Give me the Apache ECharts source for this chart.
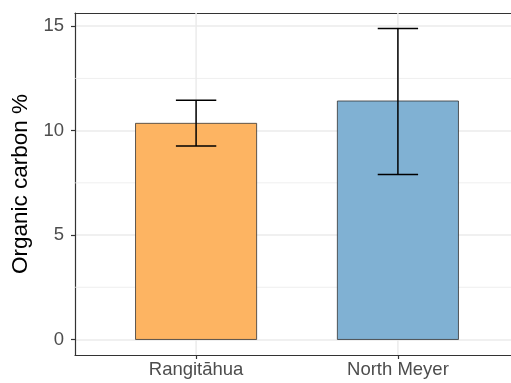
<!DOCTYPE html>
<html>
<head>
<meta charset="utf-8">
<script src="https://cdn.jsdelivr.net/npm/echarts@6/dist/echarts.min.js"></script>
<style>
  html, body { margin: 0; padding: 0; background: #fff; overflow: hidden; }
  #chart { width: 511px; height: 383px; }
</style>
</head>
<body>
<div id="chart"></div>
<script>
// Site names and organic carbon summary (mean with error bar limits)
const sites = ['Rangitāhua', 'North Meyer'];
const meanOC = [10.35, 11.42];
const lowerOC = [9.27, 7.90];
const upperOC = [11.45, 14.89];
const yTicks = [0, 5, 10, 15];
const yMinor = [2.5, 7.5, 12.5];
const barColors = ['#FDB462', '#80B1D3'];

// Axis range padded like a default ggplot continuous scale (5% of data range)
const yTop = Math.max(...upperOC);
const pad = yTop * 0.05;
const siteX = sites.map((s, i) => i + 1);

const barData = siteX.map((x, i) => [x, meanOC[i]]);
const errData = siteX.map((x, i) => [x, lowerOC[i], upperOC[i]]);

const chart = echarts.init(document.getElementById('chart'));
const font = 'Liberation Sans, Arial, sans-serif';
const frame = { show: true, onZero: false, lineStyle: { color: '#333', width: 1.2 } };
const gridColor = '#EBEBEB';

chart.setOption({
  animation: false,
  grid: {
    left: 75, top: 13, width: 444, bottom: 28,
    outerBoundsMode: 'none',
    show: false
  },
  xAxis: [{
    type: 'value',
    position: 'bottom',
    min: 0.4, max: 2.6,
    axisLine: frame,
    axisTick: { show: true, customValues: siteX, length: 4, lineStyle: { color: '#333', width: 1.2 } },
    axisLabel: {
      customValues: siteX, margin: 5,
      formatter: v => sites[Math.round(v) - 1] || '',
      color: '#4D4D4D', fontSize: 18.5, fontFamily: font
    },
    splitLine: { show: false }
  }, {
    // top edge of the panel frame
    type: 'value', position: 'top',
    min: 0.4, max: 2.6,
    axisLine: frame,
    axisTick: { show: false },
    axisLabel: { show: false },
    splitLine: { show: false }
  }],
  yAxis: {
    type: 'value',
    position: 'left',
    min: -pad, max: yTop + pad,
    name: 'Organic carbon %',
    nameLocation: 'middle', nameRotate: 90, nameGap: 39,
    nameTextStyle: { color: '#000', fontSize: 22.5, fontFamily: font },
    axisLine: frame,
    axisTick: { show: true, customValues: yTicks, length: 4, lineStyle: { color: '#333', width: 1.2 } },
    axisLabel: { customValues: yTicks, margin: 11, color: '#4D4D4D', fontSize: 18.5, fontFamily: font },
    splitLine: { show: true, lineStyle: { color: gridColor, width: 1.5 } }
  },
  series: [{
    // minor horizontal grid lines, thinner than the major ones
    type: 'custom',
    z: 1,
    silent: true,
    data: yMinor.map(v => [1, v]),
    renderItem: function (params, api) {
      const cs = params.coordSys;
      const y = api.coord([1, api.value(1)])[1];
      return {
        type: 'line',
        shape: { x1: cs.x, y1: y, x2: cs.x + cs.width, y2: y },
        style: { stroke: gridColor, lineWidth: 0.8 }
      };
    }
  }, {
    // vertical grid lines at each site
    type: 'custom',
    z: 1,
    silent: true,
    data: siteX.map(x => [x, 0]),
    renderItem: function (params, api) {
      const cs = params.coordSys;
      const x = api.coord([api.value(0), 0])[0];
      return {
        type: 'line',
        shape: { x1: x, y1: cs.y, x2: x, y2: cs.y + cs.height },
        style: { stroke: gridColor, lineWidth: 1.5 }
      };
    }
  }, {
    type: 'custom',
    z: 3,
    data: barData,
    renderItem: function (params, api) {
      const x = api.value(0), v = api.value(1);
      const p0 = api.coord([x - 0.3, v]);
      const p1 = api.coord([x + 0.3, 0]);
      return {
        type: 'rect',
        shape: { x: p0[0], y: p0[1], width: p1[0] - p0[0], height: p1[1] - p0[1] },
        style: { fill: barColors[params.dataIndex], stroke: '#333', lineWidth: 0.8 }
      };
    }
  }, {
    type: 'custom',
    z: 4,
    data: errData,
    renderItem: function (params, api) {
      const x = api.value(0);
      const lo = api.coord([x, api.value(1)]);
      const hi = api.coord([x, api.value(2)]);
      const l = api.coord([x - 0.1, 0])[0];
      const r = api.coord([x + 0.1, 0])[0];
      const st = { stroke: '#000', lineWidth: 1.5 };
      return {
        type: 'group',
        children: [
          { type: 'line', shape: { x1: lo[0], y1: lo[1], x2: hi[0], y2: hi[1] }, style: st },
          { type: 'line', shape: { x1: l, y1: hi[1], x2: r, y2: hi[1] }, style: st },
          { type: 'line', shape: { x1: l, y1: lo[1], x2: r, y2: lo[1] }, style: st }
        ]
      };
    }
  }]
});
</script>
</body>
</html>
